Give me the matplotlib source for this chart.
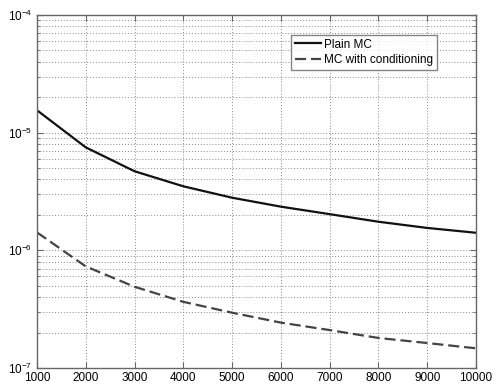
import matplotlib
matplotlib.use("Agg")
import matplotlib.pyplot as plt
from matplotlib.ticker import LogLocator, FixedLocator, NullLocator

plt.rcParams['font.family'] = ['Liberation Sans', 'DejaVu Sans']
plt.rcParams['mathtext.fontset'] = 'custom'
plt.rcParams['mathtext.rm'] = 'Liberation Sans'
plt.rcParams['mathtext.it'] = 'Liberation Sans'

n_samples = [1000, 2000, 3000, 4000, 5000, 6000, 7000, 8000, 9000, 10000]
plain_mc = [1.55e-5, 7.5e-6, 4.7e-6, 3.5e-6, 2.8e-6, 2.35e-6, 2.03e-6, 1.75e-6, 1.55e-6, 1.41e-6]
mc_cond = [1.42e-6, 7.3e-7, 4.9e-7, 3.65e-7, 2.95e-7, 2.43e-7, 2.1e-7, 1.8e-7, 1.63e-7, 1.47e-7]
x_ticks = [1000, 2000, 3000, 4000, 5000, 6000, 7000, 8000, 9000, 10000]

fig = plt.figure(figsize=(4.99, 3.85), dpi=100)
ax = fig.add_axes([37/499, 1 - 368/385, (476-37)/499, (368-15)/385])

ax.semilogy(n_samples, plain_mc, '-', color='#111111', lw=1.6, label='Plain MC')
ax.semilogy(n_samples, mc_cond, '--', color='#444444', lw=1.6, dashes=(5, 2.2), label='MC with conditioning')

ax.set_xlim(1000, 10000)
ax.set_ylim(1e-7, 1e-4)
ax.xaxis.set_major_locator(FixedLocator(x_ticks))
ax.xaxis.set_minor_locator(NullLocator())
ax.yaxis.set_major_locator(LogLocator(base=10, numticks=10))
ax.yaxis.set_minor_locator(LogLocator(base=10, subs=range(2, 10), numticks=20))
ax.yaxis.set_minor_formatter(matplotlib.ticker.NullFormatter())

ax.grid(True, which='major', linestyle=(0, (1, 2)), color='#888888', lw=0.7)
ax.grid(True, which='minor', axis='y', linestyle=(0, (1, 2)), color='#888888', lw=0.7)

for sp in ax.spines.values():
    sp.set_color('#666666')
    sp.set_linewidth(1.0)

ax.tick_params(which='both', direction='in', top=True, right=True, colors='#666666', labelcolor='black', labelsize=8.5)
ax.tick_params(which='major', length=4)
ax.tick_params(which='minor', length=2)
ax.tick_params(axis='x', pad=3)

leg = ax.legend(loc='upper right', bbox_to_anchor=(437/499, 1 - 35/385), bbox_transform=fig.transFigure,
                fontsize=8.5, frameon=True, fancybox=False, handlelength=2.2, handletextpad=0.3,
                borderpad=0.3, labelspacing=0.3, borderaxespad=0)
leg.get_frame().set_edgecolor('#666666')
leg.get_frame().set_linewidth(1.0)

fig.savefig('out.png', dpi=100)
